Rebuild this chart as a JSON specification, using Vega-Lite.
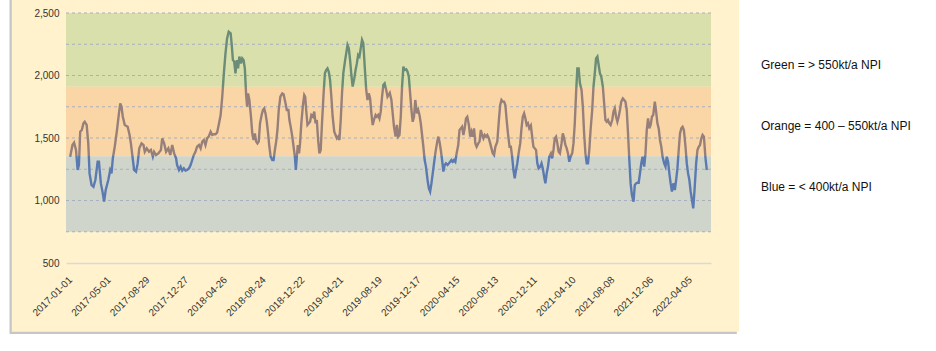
{
  "$schema": "https://vega.github.io/schema/vega-lite/v6.json",
  "autosize": "none",
  "width": 645,
  "height": 250,
  "padding": {"left": 66, "top": 13, "right": 225, "bottom": 88},
  "background": "#ffffff",
  "config": {
    "view": {"stroke": null},
    "font": "Liberation Sans"
  },
  "datasets": {
    "panel": [{"part": "panel"}],
    "bands": [
      {"band": "Green = > 550kt/a NPI", "lo": 1910, "hi": 2500},
      {"band": "Orange = 400 – 550kt/a NPI", "lo": 1355, "hi": 1910},
      {"band": "Blue = < 400kt/a NPI", "lo": 750, "hi": 1355}
    ],
    "gridlines": [{"level": 750}, {"level": 1000}, {"level": 1250}, {"level": 1500}, {"level": 1750}, {"level": 2000}, {"level": 2250}, {"level": 2500}],
    "series": [
      {"date":"2017-01-01","npi":1350},{"date":"2017-01-08","npi":1444},{"date":"2017-01-13","npi":1463},{"date":"2017-01-19","npi":1404},{"date":"2017-01-24","npi":1244},{"date":"2017-01-28","npi":1284},{"date":"2017-02-01","npi":1550},{"date":"2017-02-06","npi":1564},{"date":"2017-02-11","npi":1617},{"date":"2017-02-15","npi":1630},{"date":"2017-02-21","npi":1604},{"date":"2017-02-26","npi":1457},{"date":"2017-03-02","npi":1217},{"date":"2017-03-08","npi":1124},{"date":"2017-03-14","npi":1110},{"date":"2017-03-20","npi":1164},{"date":"2017-03-27","npi":1310},{"date":"2017-03-31","npi":1310},{"date":"2017-04-06","npi":1137},{"date":"2017-04-11","npi":1071},{"date":"2017-04-16","npi":991},{"date":"2017-04-21","npi":1084},{"date":"2017-04-29","npi":1164},{"date":"2017-05-05","npi":1244},{"date":"2017-05-09","npi":1217},{"date":"2017-05-13","npi":1337},{"date":"2017-05-19","npi":1430},{"date":"2017-05-26","npi":1564},{"date":"2017-06-01","npi":1697},{"date":"2017-06-05","npi":1777},{"date":"2017-06-09","npi":1750},{"date":"2017-06-13","npi":1670},{"date":"2017-06-19","npi":1604},{"date":"2017-06-28","npi":1590},{"date":"2017-07-04","npi":1524},{"date":"2017-07-08","npi":1457},{"date":"2017-07-13","npi":1350},{"date":"2017-07-18","npi":1244},{"date":"2017-07-24","npi":1230},{"date":"2017-07-29","npi":1297},{"date":"2017-08-03","npi":1417},{"date":"2017-08-10","npi":1457},{"date":"2017-08-16","npi":1444},{"date":"2017-08-20","npi":1390},{"date":"2017-08-26","npi":1417},{"date":"2017-09-02","npi":1390},{"date":"2017-09-08","npi":1404},{"date":"2017-09-14","npi":1350},{"date":"2017-09-18","npi":1390},{"date":"2017-09-24","npi":1364},{"date":"2017-10-01","npi":1377},{"date":"2017-10-09","npi":1404},{"date":"2017-10-13","npi":1497},{"date":"2017-10-19","npi":1457},{"date":"2017-10-25","npi":1390},{"date":"2017-11-01","npi":1417},{"date":"2017-11-07","npi":1364},{"date":"2017-11-13","npi":1444},{"date":"2017-11-19","npi":1377},{"date":"2017-11-25","npi":1337},
      {"date":"2017-11-28","npi":1284},{"date":"2017-12-04","npi":1244},{"date":"2017-12-09","npi":1270},{"date":"2017-12-14","npi":1239},{"date":"2017-12-19","npi":1257},{"date":"2017-12-24","npi":1239},{"date":"2017-12-29","npi":1244},{"date":"2018-01-04","npi":1257},{"date":"2018-01-09","npi":1284},{"date":"2018-01-14","npi":1324},{"date":"2018-01-19","npi":1364},{"date":"2018-01-24","npi":1390},{"date":"2018-01-29","npi":1430},{"date":"2018-02-04","npi":1444},{"date":"2018-02-09","npi":1417},{"date":"2018-02-14","npi":1471},{"date":"2018-02-19","npi":1484},{"date":"2018-02-24","npi":1444},{"date":"2018-03-01","npi":1497},{"date":"2018-03-06","npi":1511},{"date":"2018-03-12","npi":1550},{"date":"2018-03-17","npi":1524},{"date":"2018-03-22","npi":1530},{"date":"2018-03-27","npi":1530},{"date":"2018-04-01","npi":1543},{"date":"2018-04-06","npi":1604},{"date":"2018-04-12","npi":1684},{"date":"2018-04-17","npi":1830},{"date":"2018-04-22","npi":2017},{"date":"2018-04-27","npi":2177},{"date":"2018-05-02","npi":2297},{"date":"2018-05-07","npi":2351},{"date":"2018-05-13","npi":2337},{"date":"2018-05-16","npi":2257},{"date":"2018-05-20","npi":2124},{"date":"2018-05-24","npi":2111},{"date":"2018-05-28","npi":2017},{"date":"2018-06-01","npi":2124},{"date":"2018-06-05","npi":2057},{"date":"2018-06-09","npi":2151},{"date":"2018-06-14","npi":2097},{"date":"2018-06-18","npi":2137},{"date":"2018-06-22","npi":2124},{"date":"2018-06-26","npi":2057},{"date":"2018-06-30","npi":1844},{"date":"2018-07-03","npi":1750},{"date":"2018-07-06","npi":1857},{"date":"2018-07-10","npi":1804},{"date":"2018-07-15","npi":1670},{"date":"2018-07-19","npi":1537},{"date":"2018-07-23","npi":1484},{"date":"2018-07-27","npi":1537},{"date":"2018-07-31","npi":1471},{"date":"2018-08-04","npi":1457},{"date":"2018-08-08","npi":1471},{"date":"2018-08-12","npi":1617},{"date":"2018-08-17","npi":1684},{"date":"2018-08-21","npi":1724},{"date":"2018-08-25","npi":1737},{"date":"2018-08-29","npi":1697},{"date":"2018-09-02","npi":1630},{"date":"2018-09-06","npi":1537},{"date":"2018-09-10","npi":1430},{"date":"2018-09-14","npi":1350},{"date":"2018-09-19","npi":1324},{"date":"2018-09-23","npi":1324},{"date":"2018-09-27","npi":1404},{"date":"2018-10-01","npi":1471},{"date":"2018-10-05","npi":1564},{"date":"2018-10-09","npi":1724},{"date":"2018-10-14","npi":1830},{"date":"2018-10-20","npi":1857},
      {"date":"2018-10-24","npi":1850},{"date":"2018-10-29","npi":1791},{"date":"2018-11-03","npi":1724},{"date":"2018-11-08","npi":1724},{"date":"2018-11-11","npi":1644},{"date":"2018-11-15","npi":1590},{"date":"2018-11-20","npi":1511},{"date":"2018-11-24","npi":1430},{"date":"2018-11-28","npi":1350},{"date":"2018-12-01","npi":1244},{"date":"2018-12-04","npi":1350},{"date":"2018-12-07","npi":1444},{"date":"2018-12-11","npi":1377},{"date":"2018-12-14","npi":1457},{"date":"2018-12-18","npi":1617},{"date":"2018-12-23","npi":1764},{"date":"2018-12-27","npi":1844},{"date":"2018-12-30","npi":1830},{"date":"2019-01-02","npi":1724},{"date":"2019-01-06","npi":1604},{"date":"2019-01-10","npi":1617},{"date":"2019-01-14","npi":1630},{"date":"2019-01-18","npi":1684},{"date":"2019-01-23","npi":1670},{"date":"2019-01-27","npi":1711},{"date":"2019-01-31","npi":1617},{"date":"2019-02-04","npi":1644},{"date":"2019-02-08","npi":1484},{"date":"2019-02-12","npi":1377},{"date":"2019-02-16","npi":1404},{"date":"2019-02-20","npi":1617},{"date":"2019-02-25","npi":1857},{"date":"2019-03-01","npi":2017},{"date":"2019-03-05","npi":2044},{"date":"2019-03-09","npi":2057},{"date":"2019-03-13","npi":2030},{"date":"2019-03-17","npi":1964},{"date":"2019-03-21","npi":1830},{"date":"2019-03-25","npi":1670},{"date":"2019-03-30","npi":1550},{"date":"2019-04-03","npi":1524},{"date":"2019-04-07","npi":1497},{"date":"2019-04-11","npi":1511},{"date":"2019-04-15","npi":1484},{"date":"2019-04-19","npi":1644},{"date":"2019-04-23","npi":1857},{"date":"2019-04-27","npi":2017},{"date":"2019-05-02","npi":2111},{"date":"2019-05-06","npi":2177},{"date":"2019-05-10","npi":2244},{"date":"2019-05-14","npi":2217},{"date":"2019-05-18","npi":2124},{"date":"2019-05-22","npi":2004},{"date":"2019-05-26","npi":1911},{"date":"2019-05-31","npi":1977},{"date":"2019-06-04","npi":2044},{"date":"2019-06-08","npi":2097},{"date":"2019-06-12","npi":2164},{"date":"2019-06-16","npi":2151},{"date":"2019-06-20","npi":2217},{"date":"2019-06-24","npi":2284},{"date":"2019-06-28","npi":2257},{"date":"2019-07-03","npi":2044},{"date":"2019-07-07","npi":1884},{"date":"2019-07-11","npi":1804},{"date":"2019-07-15","npi":1857},{"date":"2019-07-19","npi":1817},{"date":"2019-07-23","npi":1697},{"date":"2019-07-27","npi":1604},{"date":"2019-07-31","npi":1644},{"date":"2019-08-05","npi":1684},{"date":"2019-08-09","npi":1670},{"date":"2019-08-13","npi":1684},{"date":"2019-08-17","npi":1657},{"date":"2019-08-21","npi":1711},{"date":"2019-08-25","npi":1830},{"date":"2019-08-29","npi":1924},{"date":"2019-09-02","npi":1937},{"date":"2019-09-07","npi":1884},{"date":"2019-09-11","npi":1830},
      {"date":"2019-09-18","npi":1860},{"date":"2019-09-23","npi":1804},{"date":"2019-09-28","npi":1670},{"date":"2019-10-01","npi":1590},{"date":"2019-10-06","npi":1511},{"date":"2019-10-10","npi":1604},{"date":"2019-10-14","npi":1511},{"date":"2019-10-18","npi":1524},{"date":"2019-10-22","npi":1670},{"date":"2019-10-26","npi":1911},{"date":"2019-10-30","npi":2071},{"date":"2019-11-03","npi":2044},{"date":"2019-11-08","npi":2050},{"date":"2019-11-12","npi":2030},{"date":"2019-11-16","npi":1991},{"date":"2019-11-20","npi":1857},{"date":"2019-11-24","npi":1724},{"date":"2019-11-28","npi":1630},{"date":"2019-12-02","npi":1670},{"date":"2019-12-06","npi":1804},{"date":"2019-12-11","npi":1697},{"date":"2019-12-15","npi":1724},{"date":"2019-12-19","npi":1684},{"date":"2019-12-23","npi":1617},{"date":"2019-12-27","npi":1524},{"date":"2019-12-31","npi":1430},{"date":"2020-01-04","npi":1324},{"date":"2020-01-08","npi":1271},{"date":"2020-01-13","npi":1164},{"date":"2020-01-17","npi":1097},{"date":"2020-01-21","npi":1071},{"date":"2020-01-25","npi":1137},{"date":"2020-01-29","npi":1217},{"date":"2020-02-02","npi":1297},{"date":"2020-02-06","npi":1377},{"date":"2020-02-11","npi":1457},{"date":"2020-02-15","npi":1511},{"date":"2020-02-19","npi":1471},{"date":"2020-02-23","npi":1404},{"date":"2020-02-27","npi":1324},{"date":"2020-03-02","npi":1231},{"date":"2020-03-06","npi":1284},{"date":"2020-03-10","npi":1297},{"date":"2020-03-15","npi":1284},{"date":"2020-03-19","npi":1297},{"date":"2020-03-23","npi":1310},{"date":"2020-03-27","npi":1324},{"date":"2020-03-31","npi":1310},{"date":"2020-04-04","npi":1324},{"date":"2020-04-08","npi":1310},{"date":"2020-04-12","npi":1377},{"date":"2020-04-17","npi":1444},{"date":"2020-04-21","npi":1564},{"date":"2020-04-25","npi":1577},{"date":"2020-04-29","npi":1590},{"date":"2020-05-03","npi":1524},{"date":"2020-05-07","npi":1577},{"date":"2020-05-11","npi":1657},{"date":"2020-05-15","npi":1670},{"date":"2020-05-20","npi":1604},{"date":"2020-05-24","npi":1511},{"date":"2020-05-28","npi":1550},{"date":"2020-06-01","npi":1511},{"date":"2020-06-05","npi":1577},{"date":"2020-06-09","npi":1457},{"date":"2020-06-13","npi":1430},{"date":"2020-06-18","npi":1457},{"date":"2020-06-22","npi":1471},{"date":"2020-06-26","npi":1564},{"date":"2020-06-30","npi":1524},{"date":"2020-07-04","npi":1497},{"date":"2020-07-08","npi":1524},{"date":"2020-07-12","npi":1511},{"date":"2020-07-16","npi":1524},{"date":"2020-07-21","npi":1497},{"date":"2020-07-25","npi":1457},{"date":"2020-07-29","npi":1417},{"date":"2020-08-02","npi":1377},{"date":"2020-08-06","npi":1364},{"date":"2020-08-10","npi":1430},
      {"date":"2020-08-16","npi":1471},{"date":"2020-08-21","npi":1644},{"date":"2020-08-25","npi":1764},{"date":"2020-08-29","npi":1804},{"date":"2020-09-02","npi":1791},{"date":"2020-09-06","npi":1791},{"date":"2020-09-10","npi":1764},{"date":"2020-09-14","npi":1644},{"date":"2020-09-18","npi":1537},{"date":"2020-09-23","npi":1430},{"date":"2020-09-27","npi":1430},{"date":"2020-10-01","npi":1350},{"date":"2020-10-05","npi":1244},{"date":"2020-10-09","npi":1177},{"date":"2020-10-13","npi":1244},{"date":"2020-10-17","npi":1297},{"date":"2020-10-21","npi":1377},{"date":"2020-10-26","npi":1457},{"date":"2020-10-30","npi":1577},{"date":"2020-11-03","npi":1670},{"date":"2020-11-07","npi":1697},{"date":"2020-11-11","npi":1657},{"date":"2020-11-15","npi":1604},{"date":"2020-11-19","npi":1617},{"date":"2020-11-23","npi":1577},{"date":"2020-11-28","npi":1600},{"date":"2020-12-02","npi":1511},{"date":"2020-12-06","npi":1430},{"date":"2020-12-10","npi":1417},{"date":"2020-12-14","npi":1404},{"date":"2020-12-18","npi":1297},{"date":"2020-12-22","npi":1257},{"date":"2020-12-27","npi":1271},{"date":"2020-12-31","npi":1297},{"date":"2021-01-04","npi":1257},{"date":"2021-01-08","npi":1191},{"date":"2021-01-12","npi":1137},{"date":"2021-01-16","npi":1217},{"date":"2021-01-20","npi":1271},{"date":"2021-01-24","npi":1350},{"date":"2021-01-29","npi":1377},{"date":"2021-02-02","npi":1337},{"date":"2021-02-06","npi":1404},{"date":"2021-02-10","npi":1497},{"date":"2021-02-14","npi":1511},{"date":"2021-02-18","npi":1457},{"date":"2021-02-22","npi":1390},{"date":"2021-02-26","npi":1377},{"date":"2021-03-03","npi":1457},{"date":"2021-03-07","npi":1537},{"date":"2021-03-11","npi":1497},{"date":"2021-03-15","npi":1444},{"date":"2021-03-19","npi":1417},{"date":"2021-03-23","npi":1377},{"date":"2021-03-27","npi":1310},{"date":"2021-03-31","npi":1350},{"date":"2021-04-05","npi":1377},{"date":"2021-04-09","npi":1457},{"date":"2021-04-13","npi":1617},{"date":"2021-04-17","npi":1857},{"date":"2021-04-21","npi":2057},{"date":"2021-04-25","npi":2057},{"date":"2021-04-29","npi":1937},{"date":"2021-05-04","npi":1884},{"date":"2021-05-08","npi":1750},{"date":"2021-05-12","npi":1537},{"date":"2021-05-16","npi":1377},{"date":"2021-05-20","npi":1297},{"date":"2021-05-24","npi":1297},{"date":"2021-05-28","npi":1404},{"date":"2021-06-01","npi":1564},{"date":"2021-06-06","npi":1724},{"date":"2021-06-10","npi":1911},{"date":"2021-06-14","npi":2017},{"date":"2021-06-18","npi":2137},{"date":"2021-06-22","npi":2151},{"date":"2021-06-26","npi":2084},{"date":"2021-06-30","npi":2017},{"date":"2021-07-04","npi":1991},{"date":"2021-07-09","npi":1911},{"date":"2021-07-13","npi":1777},{"date":"2021-07-17","npi":1644},
      {"date":"2021-07-21","npi":1630},{"date":"2021-07-25","npi":1644},{"date":"2021-07-29","npi":1617},{"date":"2021-08-02","npi":1604},{"date":"2021-08-07","npi":1644},{"date":"2021-08-11","npi":1711},{"date":"2021-08-15","npi":1737},{"date":"2021-08-19","npi":1670},{"date":"2021-08-23","npi":1630},{"date":"2021-08-27","npi":1670},{"date":"2021-08-31","npi":1724},{"date":"2021-09-04","npi":1791},{"date":"2021-09-09","npi":1817},{"date":"2021-09-13","npi":1804},{"date":"2021-09-17","npi":1790},{"date":"2021-09-21","npi":1724},{"date":"2021-09-25","npi":1537},{"date":"2021-09-29","npi":1324},{"date":"2021-10-03","npi":1137},{"date":"2021-10-07","npi":1044},{"date":"2021-10-12","npi":991},{"date":"2021-10-16","npi":1124},{"date":"2021-10-20","npi":1137},{"date":"2021-10-24","npi":1142},{"date":"2021-10-28","npi":1142},{"date":"2021-11-01","npi":1217},{"date":"2021-11-05","npi":1297},{"date":"2021-11-09","npi":1350},{"date":"2021-11-14","npi":1271},{"date":"2021-11-18","npi":1377},{"date":"2021-11-22","npi":1564},{"date":"2021-11-26","npi":1657},{"date":"2021-11-30","npi":1577},{"date":"2021-12-04","npi":1604},{"date":"2021-12-08","npi":1670},{"date":"2021-12-12","npi":1684},{"date":"2021-12-17","npi":1791},{"date":"2021-12-21","npi":1711},{"date":"2021-12-25","npi":1617},{"date":"2021-12-29","npi":1577},{"date":"2022-01-02","npi":1484},{"date":"2022-01-06","npi":1430},{"date":"2022-01-10","npi":1350},{"date":"2022-01-15","npi":1297},{"date":"2022-01-19","npi":1271},{"date":"2022-01-23","npi":1350},{"date":"2022-01-27","npi":1310},{"date":"2022-01-31","npi":1217},{"date":"2022-02-04","npi":1137},{"date":"2022-02-08","npi":1071},{"date":"2022-02-12","npi":1137},{"date":"2022-02-17","npi":1084},{"date":"2022-02-21","npi":1164},{"date":"2022-02-25","npi":1257},{"date":"2022-03-01","npi":1404},{"date":"2022-03-05","npi":1537},{"date":"2022-03-09","npi":1577},{"date":"2022-03-13","npi":1590},{"date":"2022-03-17","npi":1564},{"date":"2022-03-22","npi":1430},{"date":"2022-03-26","npi":1297},{"date":"2022-03-30","npi":1217},{"date":"2022-04-03","npi":1164},{"date":"2022-04-07","npi":1071},{"date":"2022-04-11","npi":1004},{"date":"2022-04-15","npi":937},{"date":"2022-04-19","npi":1084},{"date":"2022-04-24","npi":1297},{"date":"2022-04-28","npi":1404},{"date":"2022-05-02","npi":1430},{"date":"2022-05-06","npi":1444},{"date":"2022-05-10","npi":1497},{"date":"2022-05-14","npi":1524},{"date":"2022-05-18","npi":1511},{"date":"2022-05-23","npi":1337},{"date":"2022-05-27","npi":1244}
    ]
  },
  "layer": [
    {
      "data": {"name": "panel"},
      "mark": {"type": "rect", "fill": "#c6c6c6"},
      "encoding": {
        "x": {"datum": {"year": 2016, "month": 6, "date": 27, "utc": true}, "type": "temporal", "scale": {"type": "utc", "domain": ["2016-12-19", "2022-06-09"]}},
        "x2": {"datum": {"year": 2022, "month": 8, "date": 28, "utc": true}},
        "y": {"datum": -68, "type": "quantitative", "scale": {"domain": [500, 2500], "nice": false, "zero": false}},
        "y2": {"datum": 2604}
      }
    },
    {
      "data": {"name": "panel"},
      "mark": {"type": "rect", "fill": "#fff2cc"},
      "encoding": {
        "x": {"datum": {"year": 2016, "month": 7, "date": 4, "utc": true}, "type": "temporal", "scale": {"type": "utc", "domain": ["2016-12-19", "2022-06-09"]}},
        "x2": {"datum": {"year": 2022, "month": 9, "date": 4, "utc": true}},
        "y": {"datum": -50, "type": "quantitative", "scale": {"domain": [500, 2500], "nice": false, "zero": false}},
        "y2": {"datum": 2620}
      }
    },
    {
      "data": {"name": "bands"},
      "mark": {"type": "rect"},
      "encoding": {
        "y": {"field": "lo", "type": "quantitative", "scale": {"domain": [500, 2500], "nice": false, "zero": false}},
        "y2": {"field": "hi"},
        "color": {
          "field": "band",
          "type": "nominal",
          "scale": {
            "domain": ["Green = > 550kt/a NPI", "Orange = 400 – 550kt/a NPI", "Blue = < 400kt/a NPI"],
            "range": ["#dae0ab", "#fad6a6", "#d0d5cc"]
          },
          "legend": {
            "title": null,
            "orient": "none",
            "legendX": 683,
            "legendY": 46,
            "padding": 0,
            "symbolSize": 0,
            "symbolOpacity": 0,
            "symbolStrokeWidth": 0,
            "labelOffset": 0,
            "rowPadding": 49,
            "labelFont": "Liberation Sans",
            "labelFontSize": 12,
            "labelColor": "#111111",
            "labelLimit": 300
          }
        }
      }
    },
    {
      "data": {"name": "gridlines"},
      "mark": {"type": "rule", "color": "#a8afbe", "strokeWidth": 1, "strokeDash": [3, 3]},
      "encoding": {
        "y": {"field": "level", "type": "quantitative", "scale": {"domain": [500, 2500], "nice": false, "zero": false}}
      }
    },
    {
      "data": {"name": "series"},
      "mark": {
        "type": "line",
        "strokeWidth": 2.4,
        "stroke": {
          "gradient": "linear",
          "x1": 0, "y1": 0, "x2": 0, "y2": 1,
          "stops": [
            {"offset": 0, "color": "#6b8c76"},
            {"offset": 0.3119, "color": "#6b8c76"},
            {"offset": 0.3119, "color": "#98807a"},
            {"offset": 0.7044, "color": "#98807a"},
            {"offset": 0.7044, "color": "#5b7ab0"},
            {"offset": 1, "color": "#5b7ab0"}
          ]
        }
      },
      "encoding": {
        "x": {
          "field": "date",
          "type": "temporal",
          "scale": {"type": "utc", "domain": ["2016-12-19", "2022-06-09"]},
          "axis": {
            "title": null,
            "zindex": 1,
            "grid": false,
            "ticks": false,
            "domainColor": "#d9d9d9",
            "domainWidth": 1.5,
            "labelAngle": -45,
            "labelAlign": "right",
            "labelBaseline": "middle",
            "labelPadding": 15,
            "labelFontSize": 10,
            "labelColor": "#333333",
            "labelFont": "Liberation Sans",
            "format": "%Y-%m-%d",
            "labelOverlap": false,
            "values": ["2017-01-01", "2017-05-01", "2017-08-29", "2017-12-27", "2018-04-26", "2018-08-24", "2018-12-22", "2019-04-21", "2019-08-19", "2019-12-17", "2020-04-15", "2020-08-13", "2020-12-11", "2021-04-10", "2021-08-08", "2021-12-06", "2022-04-05"]
          }
        },
        "y": {
          "field": "npi",
          "type": "quantitative",
          "scale": {"domain": [500, 2500], "nice": false, "zero": false},
          "axis": {
            "title": null,
            "zindex": 1,
            "domain": false,
            "ticks": false,
            "grid": false,
            "values": [500, 750, 1000, 1250, 1500, 1750, 2000, 2250, 2500],
            "format": ",.0f",
            "labelPadding": 7,
            "labelFontSize": 10,
            "labelColor": "#333333",
            "labelFont": "Liberation Sans"
          }
        }
      }
    }
  ]
}
